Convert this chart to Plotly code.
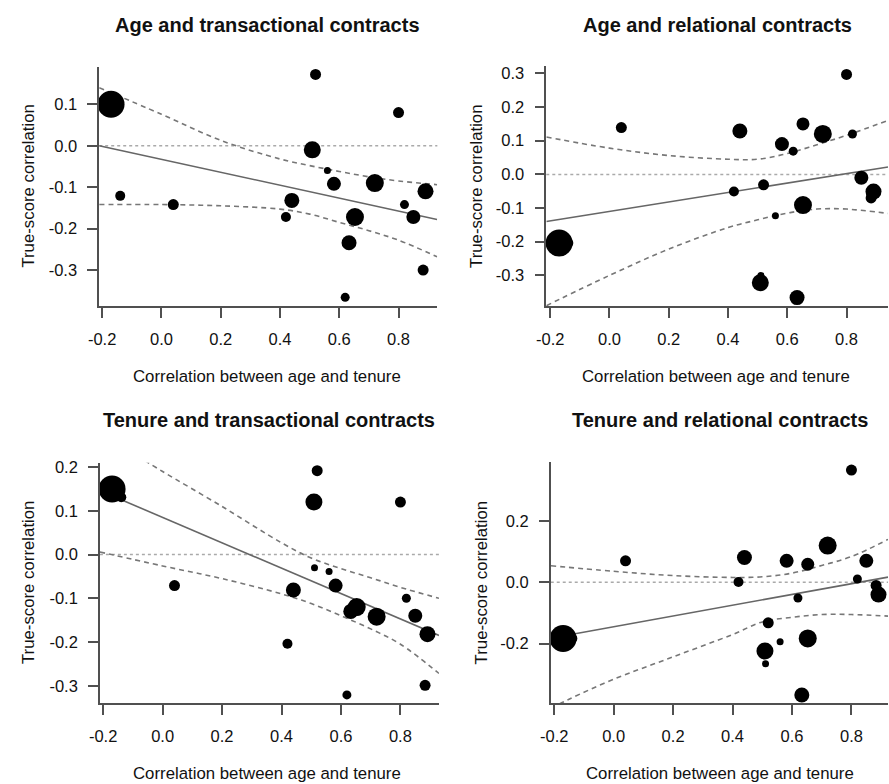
import plotly.graph_objects as go

W, H = 889, 784

# ---- data -------------------------------------------------------------
study_x = [-0.17, -0.139, 0.04, 0.42, 0.44, 0.509, 0.511, 0.52, 0.56, 0.582,
           0.62, 0.633, 0.653, 0.653, 0.72, 0.80, 0.82, 0.85, 0.883, 0.891]
study_size = [27, 10, 11, 10, 15, 17, 7, 11, 7, 14,
              9, 15, 13, 18, 18, 11, 9, 14, 11, 16]

age_trans = [0.10, -0.121, -0.142, -0.172, -0.132, -0.01, -0.01, 0.172, -0.06, -0.092,
             -0.366, -0.234, -0.172, -0.172, -0.09, 0.08, -0.142, -0.172, -0.30, -0.11]
age_rel = [-0.204, -0.204, 0.139, -0.051, 0.129, -0.322, -0.30, -0.031, -0.123, 0.09,
           0.069, -0.366, 0.15, -0.091, 0.12, 0.297, 0.12, -0.01, -0.07, -0.051]
ten_trans = [0.15, 0.131, -0.071, -0.204, -0.081, 0.12, -0.03, 0.192, -0.039, -0.071,
             -0.321, -0.13, -0.125, -0.12, -0.142, 0.12, -0.10, -0.14, -0.299, -0.182]
ten_rel = [-0.183, -0.183, 0.07, 0.001, 0.081, -0.224, -0.265, -0.132, -0.194, 0.07,
           -0.051, -0.367, 0.059, -0.183, 0.12, 0.366, 0.011, 0.07, -0.01, -0.04]

# fitted lines (end points)
fit_x = [[-0.21, 0.93], [-0.213, 0.94], [-0.21, 0.93], [-0.213, 0.923]]
fit_y = [[0.0, -0.178], [-0.14, 0.022], [0.146, -0.185], [-0.182, 0.017]]

# confidence bands
up_x = [[-0.21, 0.0, 0.2, 0.4, 0.5, 0.6, 0.7, 0.8, 0.93],
        [-0.213, 0.0, 0.2, 0.4, 0.5, 0.6, 0.7, 0.8, 0.94],
        [-0.06, 0.0, 0.2, 0.4, 0.5, 0.6, 0.7, 0.8, 0.93],
        [-0.211, 0.0, 0.2, 0.4, 0.5, 0.6, 0.7, 0.8, 0.923]]
up_y = [[0.14, 0.076, 0.013, -0.032, -0.048, -0.062, -0.075, -0.085, -0.094],
        [0.111, 0.078, 0.056, 0.045, 0.045, 0.062, 0.088, 0.116, 0.16],
        [0.215, 0.19, 0.11, 0.027, -0.008, -0.032, -0.053, -0.075, -0.10],
        [0.054, 0.036, 0.022, 0.016, 0.018, 0.03, 0.055, 0.084, 0.14]]
lo_x = [[-0.21, 0.0, 0.2, 0.4, 0.5, 0.6, 0.7, 0.8, 0.93],
        [-0.213, 0.0, 0.2, 0.4, 0.5, 0.6, 0.7, 0.8, 0.94],
        [-0.211, 0.0, 0.2, 0.4, 0.5, 0.6, 0.7, 0.8, 0.93],
        [-0.21, -0.15, 0.0, 0.2, 0.4, 0.5, 0.6, 0.7, 0.8, 0.923]]
lo_y = [[-0.142, -0.142, -0.145, -0.153, -0.165, -0.185, -0.205, -0.228, -0.268],
        [-0.39, -0.30, -0.222, -0.158, -0.135, -0.115, -0.103, -0.103, -0.116],
        [0.006, -0.026, -0.055, -0.09, -0.112, -0.14, -0.17, -0.205, -0.272],
        [-0.41, -0.381, -0.316, -0.243, -0.17, -0.129, -0.114, -0.105, -0.105, -0.11]]

titles = ["Age and transactional contracts", "Age and relational contracts",
          "Tenure and transactional contracts", "Tenure and relational contracts"]
x_title = "Correlation between age and tenure"
y_title = "True-score correlation"

x_ticks = [-0.2, 0.0, 0.2, 0.4, 0.6, 0.8]
y_ticks = [[-0.3, -0.2, -0.1, 0.0, 0.1],
           [-0.3, -0.2, -0.1, 0.0, 0.1, 0.2, 0.3],
           [-0.3, -0.2, -0.1, 0.0, 0.1, 0.2],
           [-0.2, 0.0, 0.2]]

panel_y = [age_trans, age_rel, ten_trans, ten_rel]

# ---- layout geometry (pixels) ----------------------------------------
boxes = [(89.3, 431.7, 62, 303), (542, 888, 61.7, 303.3),
         (90, 433.3, 460.7, 702.7), (546.5, 888, 460, 702.7)]
x_ranges = [[-0.21, 0.931], [-0.2133, 0.94], [-0.211, 0.9296], [-0.2116, 0.923]]
y_ranges = [[-0.387, 0.191], [-0.392, 0.321], [-0.340, 0.210], [-0.394, 0.392]]
title_pos = [(260, 20), (715, 20), (261, 418), (718, 418)]
xlab_pos = [(259, 374), (714, 374), (259, 773.5), (718, 773.5)]
ylab_pos = [(18, 182), (472, 182), (18, 581), (476, 581)]

FONT = "Liberation Sans, Arial, Helvetica, sans-serif"
AX = "#505050"

fig = go.Figure()
layout = dict(width=W, height=H, margin=dict(l=0, r=0, t=0, b=0),
              paper_bgcolor="white", plot_bgcolor="white", showlegend=False,
              font=dict(family=FONT, color="#111111"))
annotations = []
shapes = []


def fmt(v):
    return "%.1f" % v


for i in range(4):
    n = "" if i == 0 else str(i + 1)
    xa, ya = "x" + n, "y" + n
    l, r, t, b = boxes[i]
    common = dict(showline=True, linecolor=AX, linewidth=1.5, ticks="outside",
                  ticklen=10, tickwidth=1.5, tickcolor=AX, showgrid=False,
                  zeroline=False, tickfont=dict(family=FONT, size=16.5, color="#111111"),
                  fixedrange=True)
    layout["xaxis" + n] = dict(common, domain=[l / W, r / W], anchor=ya,
                               range=x_ranges[i], tickmode="array",
                               tickvals=x_ticks, ticktext=[fmt(v) for v in x_ticks],
                               ticklabelstandoff=7)
    layout["yaxis" + n] = dict(common, domain=[1 - b / H, 1 - t / H], anchor=xa,
                               range=y_ranges[i], tickmode="array",
                               tickvals=y_ticks[i], ticktext=[fmt(v) for v in y_ticks[i]],
                               ticklabelstandoff=7)
    # dotted zero reference line
    shapes.append(dict(type="line", xref=xa + " domain", yref=ya, x0=0, x1=1, y0=0, y1=0,
                       line=dict(color="#aaaaaa", width=1.5, dash="dot"), layer="below"))
    # confidence bands
    for bx, by in ((up_x[i], up_y[i]), (lo_x[i], lo_y[i])):
        fig.add_trace(go.Scatter(x=bx, y=by, mode="lines", xaxis=xa, yaxis=ya,
                                 line=dict(color="#777777", width=1.6, dash="5px,4px",
                                           shape="spline", smoothing=1.0),
                                 hoverinfo="skip"))
    # fitted line
    fig.add_trace(go.Scatter(x=fit_x[i], y=fit_y[i], mode="lines", xaxis=xa, yaxis=ya,
                             line=dict(color="#666666", width=1.6), hoverinfo="skip"))
    # studies
    fig.add_trace(go.Scatter(x=study_x, y=panel_y[i], mode="markers", xaxis=xa, yaxis=ya,
                             cliponaxis=False,
                             marker=dict(color="black", size=study_size, opacity=1,
                                         line=dict(width=0))))
    tx, ty = title_pos[i]
    annotations.append(dict(text="<b>%s</b>" % titles[i], x=tx / W, y=1 - ty / H,
                            xref="paper", yref="paper", showarrow=False,
                            xanchor="center", yanchor="middle",
                            font=dict(family=FONT, size=20, color="#111111")))
    lx, ly = xlab_pos[i]
    annotations.append(dict(text=x_title, x=lx / W, y=1 - ly / H, xref="paper", yref="paper",
                            showarrow=False, xanchor="center", yanchor="middle",
                            font=dict(family=FONT, size=16.8, color="#111111")))
    yx, yy = ylab_pos[i]
    annotations.append(dict(text=y_title, x=yx / W, y=1 - yy / H, xref="paper", yref="paper",
                            showarrow=False, xanchor="center", yanchor="middle", textangle=-90,
                            font=dict(family=FONT, size=16.8, color="#111111")))

layout["annotations"] = annotations
layout["shapes"] = shapes
fig.update_layout(**layout)
fig.write_html("out.html", config={"displayModeBar": False},
               post_script="document.body.style.margin='0';document.body.style.overflow='hidden';")
